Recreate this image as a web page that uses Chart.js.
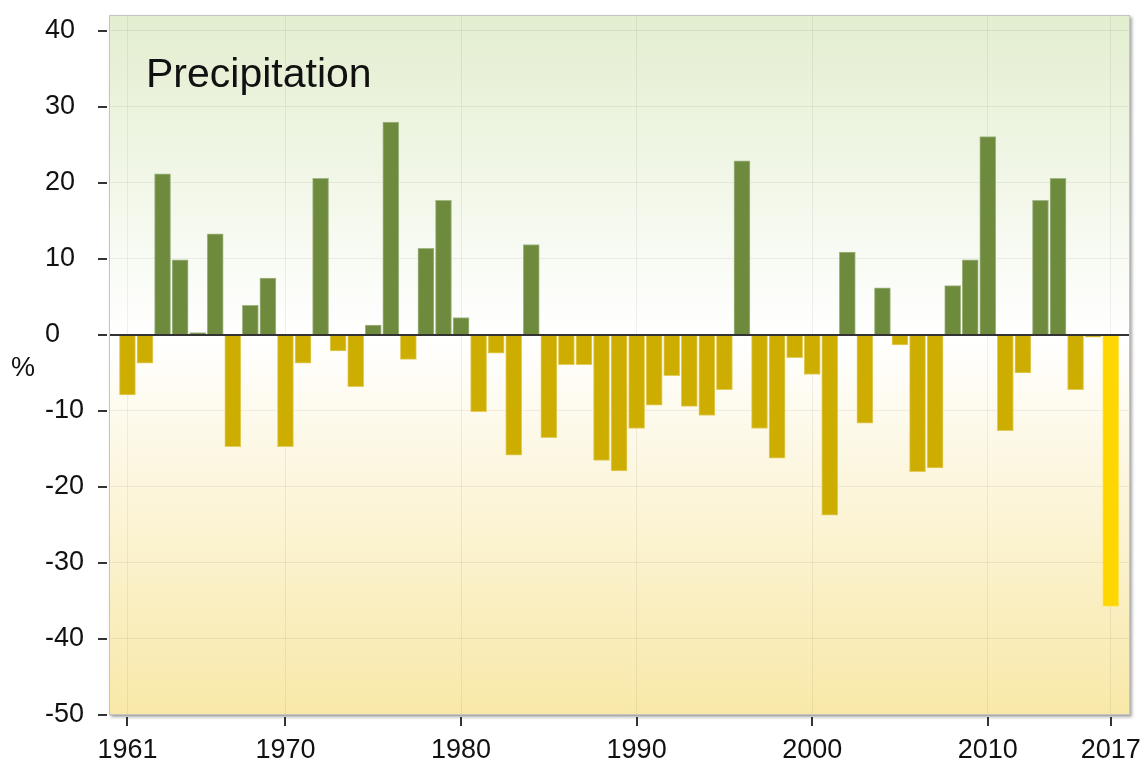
<!DOCTYPE html>
<html>
<head>
<meta charset="utf-8">
<script src="https://cdn.jsdelivr.net/npm/chart.js@4.4.0/dist/chart.umd.min.js"></script>
<style>
  html, body { margin: 0; padding: 0; background: #fff; }
  #wrap { width: 1143px; height: 762px; }
</style>
</head>
<body>
<div id="wrap"><canvas id="chart"></canvas></div>
<script>
// yearly precipitation anomaly, % of normal
const years = [
  1961, 1962, 1963, 1964, 1965, 1966, 1967, 1968, 1969, 1970,
  1971, 1972, 1973, 1974, 1975, 1976, 1977, 1978, 1979, 1980,
  1981, 1982, 1983, 1984, 1985, 1986, 1987, 1988, 1989, 1990,
  1991, 1992, 1993, 1994, 1995, 1996, 1997, 1998, 1999, 2000,
  2001, 2002, 2003, 2004, 2005, 2006, 2007, 2008, 2009, 2010,
  2011, 2012, 2013, 2014, 2015, 2016, 2017
];
const precip = [
  -7.9, -3.7, 21.2, 9.9, 0.3, 13.3, -14.7, 3.9, 7.5, -14.7,
  -3.7, 20.6, -2.1, -6.8, 1.3, 28.0, -3.2, 11.4, 17.7, 2.3,
  -10.1, -2.4, -15.8, 11.9, -13.5, -3.9, -3.9, -16.5, -17.9, -12.3,
  -9.25, -5.35, -9.4, -10.6, -7.2, 22.9, -12.3, -16.2, -3.0, -5.2,
  -23.7, 10.9, -11.6, 6.2, -1.3, -18.0, -17.5, 6.5, 9.9, 26.1,
  -12.6, -5.0, 17.7, 20.6, -7.2, -0.3, -35.7
];
const xTicks = [1961, 1970, 1980, 1990, 2000, 2010, 2017];
const yTicks = [-50, -40, -30, -20, -10, 0, 10, 20, 30, 40];
const chartTitle = 'Precipitation';
const unitLabel = '%';

const FONT = '"Liberation Sans", Arial, sans-serif';
const lastYear = years[years.length - 1];

// plot background, shadow, axis ticks, zero line and labels
const decor = {
  id: 'decor',
  beforeDraw(chart) {
    const { ctx, chartArea: a, scales } = chart;
    const y0 = scales.y.getPixelForValue(0);
    const g = ctx.createLinearGradient(0, a.top, 0, a.bottom);
    const f = (y0 - a.top) / (a.bottom - a.top);
    g.addColorStop(0, '#e3eecf');
    g.addColorStop(f, '#ffffff');
    g.addColorStop(1, '#f8e8a8');
    ctx.save();
    ctx.shadowColor = 'rgba(0,0,0,0.35)';
    ctx.shadowBlur = 3;
    ctx.shadowOffsetX = 2;
    ctx.shadowOffsetY = 2;
    ctx.fillStyle = g;
    ctx.fillRect(a.left, a.top, a.right - a.left, a.bottom - a.top);
    ctx.restore();
  },
  afterDatasetsDraw(chart) {
    const { ctx, chartArea: a, scales } = chart;
    ctx.save();
    // zero line
    const y0 = Math.round(scales.y.getPixelForValue(0));
    ctx.strokeStyle = '#333';
    ctx.lineWidth = 2;
    ctx.beginPath();
    ctx.moveTo(a.left, y0);
    ctx.lineTo(a.right, y0);
    ctx.stroke();
    // plot frame
    ctx.strokeStyle = '#c4c4c4';
    ctx.lineWidth = 1;
    ctx.strokeRect(a.left + 0.5, a.top + 0.5, a.right - a.left - 1, a.bottom - a.top - 1);
    // tick marks, set a little away from the frame
    ctx.strokeStyle = '#333';
    ctx.lineWidth = 2;
    yTicks.forEach(v => {
      const p = Math.round(scales.y.getPixelForValue(v));
      ctx.beginPath();
      ctx.moveTo(a.left - 11, p);
      ctx.lineTo(a.left - 2, p);
      ctx.stroke();
    });
    xTicks.forEach(v => {
      const p = Math.round(scales.x.getPixelForValue(v));
      ctx.beginPath();
      ctx.moveTo(p, a.bottom + 2);
      ctx.lineTo(p, a.bottom + 11);
      ctx.stroke();
    });
    ctx.restore();
  },
  afterDraw(chart) {
    const { ctx, chartArea: a, scales } = chart;
    ctx.save();
    ctx.fillStyle = '#111';
    ctx.font = '41px ' + FONT;
    ctx.textAlign = 'left';
    ctx.textBaseline = 'alphabetic';
    ctx.fillText(chartTitle, a.left + 37, 87);
    ctx.font = '27px ' + FONT;
    ctx.textAlign = 'center';
    ctx.textBaseline = 'middle';
    ctx.fillText(unitLabel, 23, scales.y.getPixelForValue(-4.4));
    ctx.restore();
  }
};

const ctx = document.getElementById('chart').getContext('2d');
new Chart(ctx, {
  type: 'bar',
  data: {
    datasets: [{
      data: years.map((yr, i) => ({ x: yr, y: precip[i] })),
      backgroundColor: c => {
        if (c.raw && c.raw.x === lastYear) return '#FFD700';
        return c.raw && c.raw.y >= 0 ? '#6E8B3D' : '#CDAD00';
      },
      borderColor: c => {
        if (c.raw && c.raw.x === lastYear) return '#ffe45a';
        return c.raw && c.raw.y >= 0 ? '#a3b686' : '#e3cc5c';
      },
      borderWidth: 1,
      barThickness: 16
    }]
  },
  options: {
    responsive: true,
    maintainAspectRatio: false,
    animation: false,
    devicePixelRatio: 1,
    layout: { padding: { left: 45, top: 15, right: 13, bottom: 0 } },
    plugins: {
      legend: { display: false },
      tooltip: { enabled: false }
    },
    scales: {
      x: {
        type: 'linear',
        min: 1959.95,
        max: 2018.1,
        offset: false,
        afterBuildTicks: s => { s.ticks = xTicks.map(v => ({ value: v })); },
        afterFit: s => { s.height = 47; s.paddingLeft = 0; s.paddingRight = 0; },
        ticks: {
          autoSkip: false,
          maxRotation: 0,
          padding: 19,
          color: '#111',
          font: { family: FONT, size: 27 },
          callback: v => String(v)
        },
        grid: { color: 'rgba(0,0,0,0.06)', drawTicks: false, offset: false },
        border: { display: false }
      },
      y: {
        min: -50,
        max: 42.1,
        afterBuildTicks: s => { s.ticks = yTicks.map(v => ({ value: v })); },
        afterFit: s => { s.width = 64; s.paddingTop = 0; s.paddingBottom = 0; },
        ticks: {
          crossAlign: 'far',
          color: '#111',
          font: { family: FONT, size: 27 },
          callback: v => String(v)
        },
        grid: { color: 'rgba(0,0,0,0.06)', drawTicks: false },
        border: { display: false }
      }
    }
  },
  plugins: [decor]
});
</script>
</body>
</html>
